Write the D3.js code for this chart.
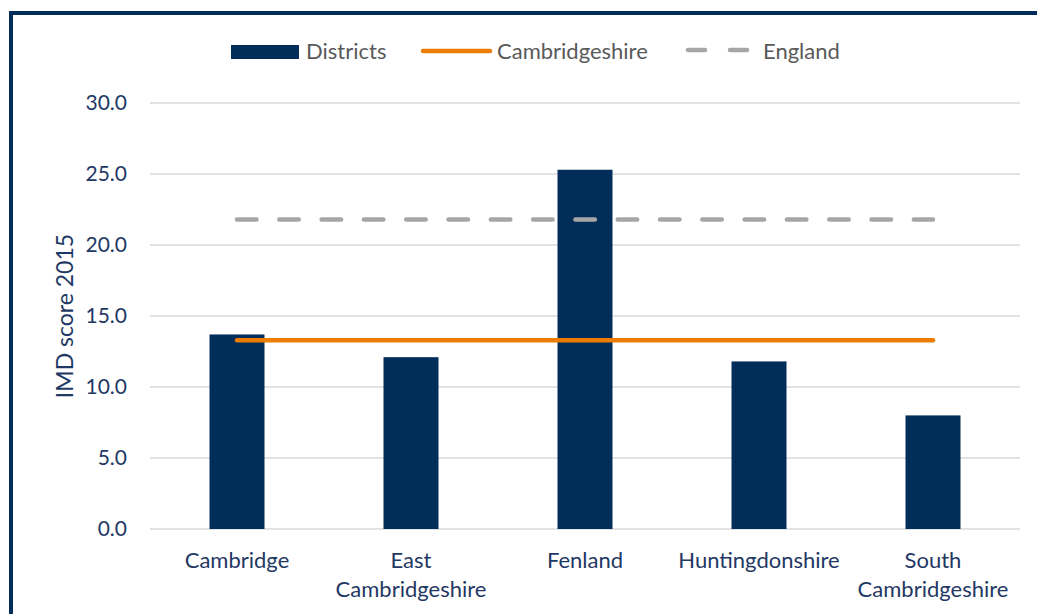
<!DOCTYPE html>
<html>
<head>
<meta charset="utf-8">
<script src="https://cdn.jsdelivr.net/npm/d3@7"></script>
<style>
  body { margin: 0; background: #fff; }
  svg text { font-family: Lato, "Open Sans", sans-serif; }
</style>
</head>
<body>
<div id="chart"></div>
<script>
// data
const districts = ["Cambridge", "East Cambridgeshire", "Fenland", "Huntingdonshire", "South Cambridgeshire"];
const districtLabels = [["Cambridge"], ["East", "Cambridgeshire"], ["Fenland"], ["Huntingdonshire"], ["South", "Cambridgeshire"]];
const imdScores = [13.7, 12.1, 25.3, 11.8, 8.0];
const cambridgeshireScore = 13.3;
const englandScore = 21.8;
const yTicks = [0, 5, 10, 15, 20, 25, 30];

const W = 1037, H = 614;
const plotLeft = 150, plotRight = 1020, plotTop = 103, plotBottom = 529;
const navy = "#002d5a";
const textNavy = "#1f3864";

const svg = d3.select("#chart").append("svg")
    .attr("width", W).attr("height", H);

// frame
svg.append("rect")
    .attr("x", 11).attr("y", 13)
    .attr("width", 1060).attr("height", 700)
    .attr("fill", "none").attr("stroke", navy).attr("stroke-width", 4);

const x = d3.scaleBand().domain(districts).range([plotLeft, plotRight]);
const y = d3.scaleLinear().domain([0, 30]).range([plotBottom, plotTop]);

// gridlines
svg.append("g")
    .selectAll("line")
    .data(yTicks)
    .join("line")
    .attr("x1", plotLeft).attr("x2", plotRight)
    .attr("y1", d => y(d)).attr("y2", d => y(d))
    .attr("stroke", "#d9d9d9").attr("stroke-width", 1.5);

// y tick labels
svg.append("g")
    .selectAll("text")
    .data(yTicks)
    .join("text")
    .attr("x", 127).attr("y", d => y(d))
    .attr("dy", "0.35em")
    .attr("text-anchor", "end")
    .attr("fill", textNavy)
    .style("font-size", "21px")
    .text(d => d.toFixed(1));

// y axis title
svg.append("text")
    .attr("transform", "translate(73," + ((plotTop + plotBottom) / 2) + ") rotate(-90)")
    .attr("text-anchor", "middle")
    .attr("fill", textNavy)
    .style("font-size", "23px")
    .text("IMD score 2015");

// bars
const barW = x.bandwidth() * 0.316;
svg.append("g")
    .selectAll("rect")
    .data(imdScores)
    .join("rect")
    .attr("x", (d, i) => x(districts[i]) + x.bandwidth() / 2 - barW / 2)
    .attr("y", d => y(d))
    .attr("width", barW)
    .attr("height", d => y(0) - y(d))
    .attr("fill", navy);

// category labels
const cat = svg.append("g")
    .selectAll("text")
    .data(districtLabels)
    .join("text")
    .attr("x", (d, i) => x(districts[i]) + x.bandwidth() / 2)
    .attr("y", 568)
    .attr("text-anchor", "middle")
    .attr("fill", textNavy)
    .style("font-size", "22px");
cat.selectAll("tspan")
    .data(d => d)
    .join("tspan")
    .attr("x", function() { return this.parentNode.getAttribute("x"); })
    .attr("dy", (d, i) => i === 0 ? 0 : 29)
    .text(d => d);

// reference lines
const x0 = x(districts[0]) + x.bandwidth() / 2;
const x1 = x(districts[districts.length - 1]) + x.bandwidth() / 2;
svg.append("line")
    .attr("x1", x0).attr("x2", x1)
    .attr("y1", y(englandScore)).attr("y2", y(englandScore))
    .attr("stroke", "#a6a6a6").attr("stroke-width", 4.5)
    .attr("stroke-linecap", "round")
    .attr("stroke-dasharray", "19.5 22.8");
svg.append("line")
    .attr("x1", x0).attr("x2", x1)
    .attr("y1", y(cambridgeshireScore)).attr("y2", y(cambridgeshireScore))
    .attr("stroke", "#ed7d00").attr("stroke-width", 4.5)
    .attr("stroke-linecap", "round");

// legend
const legend = svg.append("g");
legend.append("rect")
    .attr("x", 231).attr("y", 45).attr("width", 68).attr("height", 14)
    .attr("fill", navy);
legend.append("text")
    .attr("x", 306).attr("y", 51).attr("dy", "0.35em")
    .attr("fill", "#595959").style("font-size", "22px")
    .text("Districts");
legend.append("line")
    .attr("x1", 423).attr("x2", 490).attr("y1", 51).attr("y2", 51)
    .attr("stroke", "#ed7d00").attr("stroke-width", 4.5)
    .attr("stroke-linecap", "round");
legend.append("text")
    .attr("x", 497).attr("y", 51).attr("dy", "0.35em")
    .attr("fill", "#595959").style("font-size", "22px")
    .text("Cambridgeshire");
legend.append("line")
    .attr("x1", 688).attr("x2", 750).attr("y1", 50).attr("y2", 50)
    .attr("stroke", "#a6a6a6").attr("stroke-width", 4.5)
    .attr("stroke-linecap", "round")
    .attr("stroke-dasharray", "17 25");
legend.append("text")
    .attr("x", 763).attr("y", 51).attr("dy", "0.35em")
    .attr("fill", "#595959").style("font-size", "22px")
    .text("England");
</script>
</body>
</html>
